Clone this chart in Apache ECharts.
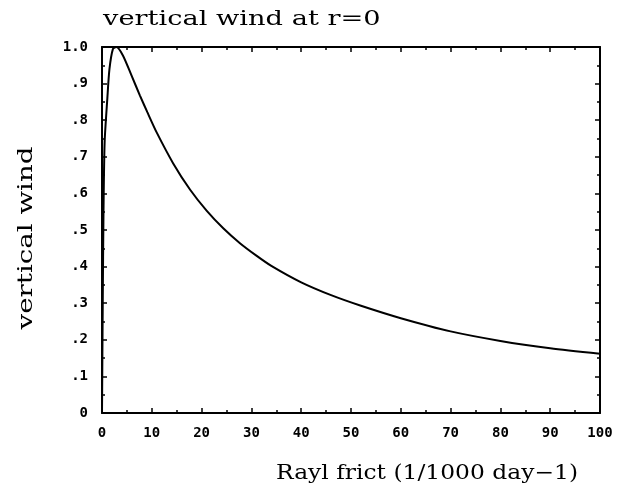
<!DOCTYPE html>
<html>
<head>
<meta charset="utf-8">
<script src="https://cdn.jsdelivr.net/npm/echarts@6/dist/echarts.min.js"></script>
<style>
  html, body { margin: 0; padding: 0; background: #fff; }
  #chart { width: 623px; height: 491px; }
</style>
</head>
<body>
<div id="chart"></div>
<script>
// Rayleigh friction (1/1000 day-1) and the resulting vertical wind at r=0
const frict = [0, 0.15, 0.3, 0.53, 1.07, 1.5, 2.2, 2.9, 4.2, 5.9, 7.6, 9.1, 11.0, 14.3, 17.7, 21.0, 24.4, 27.7, 31.0, 34.0, 40.0, 46.0, 52.0, 60.0, 70.0, 80.0, 90.0, 100];
const wind = [0, 0.3, 0.55, 0.74, 0.859, 0.94, 0.995, 1.0, 0.977, 0.923, 0.868, 0.822, 0.766, 0.682, 0.610, 0.553, 0.504, 0.464, 0.430, 0.402, 0.357, 0.322, 0.293, 0.259, 0.223, 0.197, 0.177, 0.162];

const xTickLabels = ['0', '10', '20', '30', '40', '50', '60', '70', '80', '90', '100'];
const yTickLabels = ['0', '.1', '.2', '.3', '.4', '.5', '.6', '.7', '.8', '.9', '1.0'];

const titleText = 'vertical wind at r=0';
const xName = 'Rayl frict (1/1000 day\u22121)';
const yName = 'vertical wind';

const ink = '#000';
const labelFont = { fontFamily: 'DejaVu Sans Mono', fontWeight: 'bold', fontSize: 14, color: ink };
const serifFamily = '"DejaVu Serif", "Liberation Serif", serif';
const serifSize = 20;

// Horizontal stretch so a serif string spans the wanted width
function stretchFor(text, width) {
  const ctx = document.createElement('canvas').getContext('2d');
  ctx.font = serifSize + 'px ' + serifFamily;
  return width / ctx.measureText(text).width;
}
const titleStretch = stretchFor('vertical wind', 180);
const yNameStretch = stretchFor(yName, 183);
const xNameStretch = stretchFor(xName, 302);

function serifText(text, extra) {
  return Object.assign({
    type: 'text',
    style: { text: text, fontFamily: serifFamily, fontSize: serifSize, fill: ink, textVerticalAlign: 'middle' }
  }, extra);
}

function frameAxis(extra) {
  return Object.assign({
    type: 'value',
    axisLine: { show: true, onZero: false, lineStyle: { color: ink, width: 2 } },
    axisTick: { show: true, inside: true, length: 5, lineStyle: { color: ink, width: 1.5 } },
    minorTick: { show: true, splitNumber: 2, length: 3, lineStyle: { color: ink, width: 1.5 } },
    splitLine: { show: false },
    minorSplitLine: { show: false }
  }, extra);
}

const titleEl = serifText(titleText, { x: 103, y: 20, scaleX: titleStretch });
titleEl.style.textAlign = 'left';
const yNameEl = serifText(yName, { x: 27, y: 238, rotation: Math.PI / 2, scaleX: yNameStretch });
yNameEl.style.textAlign = 'center';
const xNameEl = serifText(xName, { x: 427, y: 474, scaleX: xNameStretch });
xNameEl.style.textAlign = 'center';

const chart = echarts.init(document.getElementById('chart'), null, { renderer: 'canvas' });
chart.setOption({
  animation: false,
  backgroundColor: '#fff',
  grid: { left: 102, right: 23, top: 47, bottom: 78, containLabel: false },
  xAxis: [
    frameAxis({
      min: 0, max: 100, interval: 10, position: 'bottom',
      axisLabel: Object.assign({ margin: 13, formatter: v => xTickLabels[Math.round(v / 10)] }, labelFont)
    }),
    frameAxis({
      min: 0, max: 100, interval: 10, position: 'top',
      axisLabel: { show: false }
    })
  ],
  yAxis: [
    frameAxis({
      min: 0, max: 1, interval: 0.1, position: 'left',
      axisLabel: Object.assign({ margin: 14, formatter: v => yTickLabels[Math.round(v * 10)] }, labelFont)
    }),
    frameAxis({
      min: 0, max: 1, interval: 0.1, position: 'right',
      axisLabel: { show: false }
    })
  ],
  graphic: [titleEl, yNameEl, xNameEl],
  series: [{
    type: 'line',
    xAxisIndex: 0, yAxisIndex: 0,
    data: frict.map((f, i) => [f, wind[i]]),
    showSymbol: false,
    smooth: 0.25,
    lineStyle: { color: ink, width: 2 },
    clip: true
  }]
});
</script>
</body>
</html>
